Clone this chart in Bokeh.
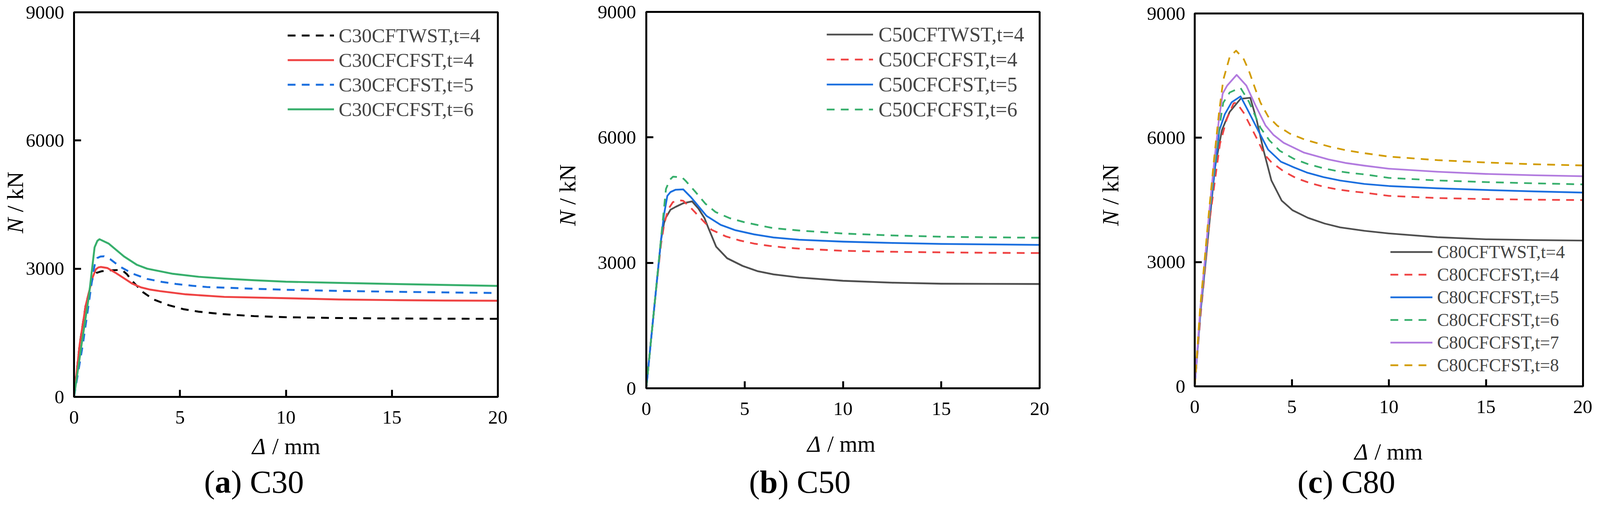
import numpy as np
from bokeh.plotting import figure
from bokeh.models import Range1d, FixedTicker, Label, Legend, LegendItem, BoxAnnotation
from bokeh.layouts import row
from bokeh.embed import file_html
from bokeh.resources import INLINE

FONT = "Liberation Serif"
S = 4096.0 / 4153.0   # reference pixels -> CSS pixels


def C(P):
    """reference page pixel -> canvas CSS pixel"""
    return int(round(P * S - 8))


def D(d):
    return d * S

# ---------------- data ----------------
x_ticks = [0, 5, 10, 15, 20]
y_ticks = [0, 3000, 6000, 9000]

# (a) C30
a_ftwst4_x = [0, 0.27, 0.55, 0.88, 1.05, 1.3, 1.64, 2.15, 2.3, 2.5, 2.73, 3.0, 3.27, 3.76, 4.48, 5.15, 5.88, 6.58, 7.09, 8.5, 10, 12.5, 15, 17.5, 20]
a_ftwst4_n = [0, 1240, 2140, 2780, 2900, 2940, 2961, 2970, 2955, 2870, 2720, 2580, 2445, 2279, 2144, 2054, 1994, 1958, 1934, 1890, 1865, 1845, 1835, 1830, 1827]
a_cf4_x = [0, 0.27, 0.55, 0.88, 1.03, 1.15, 1.27, 1.58, 1.94, 2.36, 2.73, 3.15, 3.6, 4.06, 5.27, 7.09, 10, 12.5, 15, 17.5, 20]
a_cf4_n = [0, 1240, 2140, 2800, 2985, 3030, 3040, 3015, 2910, 2775, 2655, 2565, 2510, 2475, 2400, 2340, 2310, 2280, 2265, 2255, 2250]
a_cf5_x = [0, 0.42, 0.7, 0.9, 1.0, 1.1, 1.25, 1.42, 1.7, 2.18, 2.79, 3.45, 4.15, 4.85, 5.58, 6.27, 6.97, 8.5, 10, 12.5, 15, 17.5, 20]
a_cf5_n = [0, 1240, 2200, 2900, 3150, 3250, 3285, 3290, 3225, 3045, 2880, 2760, 2691, 2640, 2601, 2571, 2559, 2530, 2507, 2480, 2461, 2445, 2431]
a_cf6_x = [0, 0.36, 0.7, 0.97, 1.1, 1.2, 1.64, 2.36, 2.97, 3.45, 4.67, 5.88, 7.09, 8.5, 10, 12.5, 15, 17.5, 20]
a_cf6_n = [0, 1240, 2350, 3500, 3650, 3690, 3586, 3286, 3090, 3000, 2880, 2811, 2769, 2730, 2696, 2668, 2643, 2620, 2597]

# (b) C50
b_ftwst4_x = [0, 0.25, 0.5, 0.75, 0.9, 1.0, 1.23, 1.5, 1.88, 2.33, 2.65, 2.96, 3.13, 3.55, 4.11, 4.9, 5.68, 6.47, 7.77, 10, 12.5, 15, 17.5, 20]
b_ftwst4_n = [0, 1200, 2380, 3550, 3950, 4086, 4270, 4340, 4425, 4469, 4300, 4068, 3865, 3387, 3110, 2926, 2798, 2724, 2650, 2571, 2525, 2501, 2497, 2494]
b_cf4_x = [0, 0.25, 0.5, 0.75, 0.9, 1.1, 1.35, 1.62, 1.88, 2.28, 2.8, 3.32, 4.04, 4.76, 5.48, 6.27, 6.99, 7.71, 10, 12.5, 15, 17.5, 20]
b_cf4_n = [0, 1200, 2360, 3450, 3902, 4270, 4450, 4498, 4483, 4307, 4049, 3791, 3633, 3534, 3460, 3405, 3368, 3342, 3288, 3265, 3250, 3240, 3234]
b_cf5_x = [0, 0.25, 0.5, 0.75, 0.9, 1.07, 1.23, 1.49, 1.88, 2.28, 3.06, 3.78, 4.5, 5.48, 6.47, 7.77, 10, 12.5, 15, 17.5, 20]
b_cf5_n = [0, 1200, 2380, 3550, 4150, 4601, 4693, 4748, 4756, 4564, 4123, 3909, 3784, 3681, 3607, 3552, 3507, 3475, 3452, 3440, 3429]
b_cf6_x = [0, 0.25, 0.5, 0.75, 1.0, 1.2, 1.36, 1.82, 2.02, 2.47, 3.0, 3.52, 4.24, 4.96, 5.68, 6.47, 7.77, 10, 12.5, 15, 17.5, 20]
b_cf6_n = [0, 1200, 2390, 3580, 4767, 4988, 5061, 5043, 4951, 4712, 4417, 4215, 4068, 3975, 3902, 3828, 3773, 3701, 3655, 3624, 3610, 3600]

# (c) C80
c_ftwst4_x = [0, 0.3, 0.55, 0.8, 1.05, 1.4, 1.57, 1.8, 2.36, 2.86, 3.19, 3.52, 3.95, 4.48, 5.04, 5.83, 6.69, 7.49, 8.74, 10, 12.5, 15, 17.5, 20]
c_ftwst4_n = [0, 1800, 2950, 4150, 5300, 6182, 6376, 6624, 6939, 6966, 6431, 5741, 4968, 4482, 4250, 4068, 3930, 3836, 3754, 3691, 3600, 3550, 3530, 3518]
c_cf4_x = [0, 0.32, 0.56, 0.78, 1.05, 1.3, 1.65, 2.0, 2.15, 2.53, 2.92, 3.25, 3.58, 3.95, 4.58, 5.24, 5.97, 6.69, 7.42, 8.15, 8.74, 10, 12.5, 15, 17.5, 20]
c_cf4_n = [0, 1800, 2950, 4050, 5000, 5851, 6450, 6830, 6850, 6596, 6238, 5934, 5603, 5410, 5189, 5023, 4902, 4813, 4747, 4703, 4675, 4598, 4545, 4520, 4505, 4496]
c_cf5_x = [0, 0.3, 0.54, 0.75, 1.0, 1.27, 1.55, 1.9, 2.36, 2.72, 3.32, 3.78, 4.44, 5.1, 5.77, 6.63, 7.49, 8.74, 10, 12.5, 15, 17.5, 20]
c_cf5_n = [0, 1850, 2992, 4085, 5078, 6182, 6569, 6856, 7000, 6679, 6127, 5713, 5421, 5288, 5161, 5051, 4968, 4885, 4835, 4780, 4740, 4705, 4677]
c_cf6_x = [0, 0.3, 0.54, 0.75, 1.0, 1.25, 1.47, 1.8, 2.06, 2.36, 2.79, 3.39, 3.85, 4.38, 5.1, 5.83, 6.56, 7.29, 8.02, 8.74, 10, 12.5, 15, 17.5, 20]
c_cf6_n = [0, 1880, 3000, 4100, 5200, 6200, 6845, 7093, 7148, 7204, 6872, 6238, 5934, 5686, 5492, 5365, 5272, 5200, 5150, 5117, 5032, 4970, 4930, 4900, 4875]
c_cf7_x = [0, 0.29, 0.52, 0.73, 1.0, 1.25, 1.44, 1.67, 2.16, 2.66, 3.12, 3.65, 4.05, 4.58, 5.63, 6.89, 7.75, 8.74, 10, 12.5, 15, 17.5, 20]
c_cf7_n = [0, 1900, 3020, 4120, 5400, 6450, 7066, 7259, 7518, 7259, 6790, 6293, 6072, 5879, 5641, 5476, 5393, 5327, 5253, 5180, 5127, 5095, 5072]
c_cf8_x = [0, 0.28, 0.5, 0.72, 1.0, 1.25, 1.47, 1.8, 2.13, 2.53, 2.79, 3.12, 3.39, 3.78, 4.25, 4.9, 5.63, 6.36, 7.09, 7.82, 8.54, 10, 12.5, 15, 17.5, 20]
c_cf8_n = [0, 1900, 3000, 4150, 5500, 6600, 7397, 7949, 8103, 7894, 7618, 7176, 6845, 6514, 6293, 6100, 5962, 5862, 5768, 5697, 5641, 5545, 5460, 5403, 5360, 5332]

labels_a = ["C30CFTWST,t=4", "C30CFCFST,t=4", "C30CFCFST,t=5", "C30CFCFST,t=6"]
labels_b = ["C50CFTWST,t=4", "C50CFCFST,t=4", "C50CFCFST,t=5", "C50CFCFST,t=6"]
labels_c = ["C80CFTWST,t=4", "C80CFCFST,t=4", "C80CFCFST,t=5", "C80CFCFST,t=6", "C80CFCFST,t=7", "C80CFCFST,t=8"]

BLACK = "#000000"
GRAY = "#4f4f4f"
RED = "#ef4343"
BLUE = "#1b6fdf"
GREEN = "#37af6c"
PURPLE = "#b27bdf"
GOLD = "#d29c00"
DASH = "20 16"
CAPTION_BASELINE = 1258


def px(v):
    return "%.1fpx" % (v * S)


def make_panel(series, g):
    pl, pr = C(g["panel_l"]), C(g["panel_r"])
    fr_l, fr_r = C(g["fr_l"]), C(g["fr_r"])
    fr_t, fr_b, H = C(g["fr_t"]), C(g["fr_b"]), C(1312)
    W = pr - pl
    fw, fh = fr_r - fr_l, fr_b - fr_t
    # extend ranges so that the data box lands at the frame position of the reference
    x0 = -20.0 * (fr_l - pl) / fw
    x1 = 20.0 + 20.0 * (pr - fr_r) / fw
    y1 = 9000.0 + 9000.0 * fr_t / fh
    y0 = -9000.0 * (H - fr_b) / fh

    p = figure(width=W, height=H, x_range=Range1d(x0, x1), y_range=Range1d(y0, y1),
               min_border=0, min_border_left=0, min_border_right=0,
               min_border_top=0, min_border_bottom=0,
               output_backend="svg", toolbar_location=None, title=None,
               background_fill_color="white", border_fill_color="white")
    p.xgrid.visible = False
    p.ygrid.visible = False
    p.outline_line_color = None
    p.xaxis.fixed_location = 0
    p.yaxis.fixed_location = 0
    p.xaxis.bounds = (0, 20)
    p.yaxis.bounds = (0, 9000)
    p.xaxis.ticker = FixedTicker(ticks=x_ticks)
    p.yaxis.ticker = FixedTicker(ticks=y_ticks)
    for ax in (p.xaxis[0], p.yaxis[0]):
        ax.axis_line_width = D(5)
        ax.axis_line_color = "black"
        ax.major_tick_line_width = D(5)
        ax.major_tick_line_color = "black"
        ax.major_tick_in = int(round(D(18)))
        ax.major_tick_out = 0
        ax.minor_tick_in = 0
        ax.minor_tick_out = 0
        ax.minor_tick_line_color = None
        ax.major_label_text_font = FONT
        ax.major_label_text_font_size = px(50)
        ax.major_label_text_color = "black"
    p.xaxis.major_label_standoff = int(round(D(g["xs"])))
    p.yaxis.major_label_standoff = int(round(D(g["ys"])))

    items = []
    for (xs, ns, color, dash, lab) in series:
        kw = dict(line_color=color, line_width=D(g["lw"]), line_join="round")
        if dash:
            kw["line_dash"] = DASH
        r = p.line(xs, ns, **kw)
        items.append(LegendItem(label=lab, renderers=[r]))

    # plot box (frame) of the data region
    p.add_layout(BoxAnnotation(left=0, right=20, bottom=0, top=9000,
                               fill_alpha=0, fill_color=None,
                               line_color="black", line_width=D(5), line_alpha=1))

    rh = int(round(D(g["rh"])))
    leg_top = C(g["leg_t"])
    leg = Legend(items=items,
                 location=(C(g["leg_l"]) - pl, H - (leg_top + rh * len(items))),
                 padding=0, margin=0, spacing=0,
                 glyph_width=int(round(D(g["gw"]))), glyph_height=rh, label_height=rh,
                 label_standoff=int(round(D(g["gs"]))),
                 label_text_font=FONT, label_text_font_size=px(g["lfs"]),
                 border_line_alpha=0, background_fill_alpha=0)
    p.add_layout(leg)

    def lab(text, x, y, size, style="normal", angle=0.0, align="left", baseline="alphabetic"):
        p.add_layout(Label(x=x, y=y, x_units="screen", y_units="screen", text=text,
                           text_font=FONT, text_font_size=size, text_font_style=style,
                           angle=angle, text_align=align, text_baseline=baseline,
                           text_color="black"))

    # y title: italic N + "/ kN"
    yx = C(g["yt_x"]) - pl
    yy = H - C(g["yt_b"])
    lab("N", yx, yy, px(60), "italic", np.pi / 2, "left", "middle")
    lab("/ kN", yx, yy + D(55), px(60), "normal", np.pi / 2, "left", "middle")
    # x title: italic Delta + "/ mm"
    xx = C(g["xt_x"]) - pl
    xy = H - C(g["xt_b"])
    lab("\u0394", xx, xy, px(60), "italic")
    lab("/ mm", xx + D(52), xy, px(60))
    # caption
    cx = C(g["cap_x"]) - pl
    cy = H - C(CAPTION_BASELINE)
    letter, rest, lw = g["cap"]
    lab("(", cx, cy, px(84))
    lab(letter, cx + D(28), cy, px(84), "bold")
    lab(rest, cx + D(28 + lw), cy, px(84))
    return p


series_a = [
    (a_ftwst4_x, a_ftwst4_n, BLACK, True, labels_a[0]),
    (a_cf4_x, a_cf4_n, RED, False, labels_a[1]),
    (a_cf5_x, a_cf5_n, BLUE, True, labels_a[2]),
    (a_cf6_x, a_cf6_n, GREEN, False, labels_a[3]),
]
series_b = [
    (b_ftwst4_x, b_ftwst4_n, GRAY, False, labels_b[0]),
    (b_cf4_x, b_cf4_n, RED, True, labels_b[1]),
    (b_cf5_x, b_cf5_n, BLUE, False, labels_b[2]),
    (b_cf6_x, b_cf6_n, GREEN, True, labels_b[3]),
]
series_c = [
    (c_ftwst4_x, c_ftwst4_n, GRAY, False, labels_c[0]),
    (c_cf4_x, c_cf4_n, RED, True, labels_c[1]),
    (c_cf5_x, c_cf5_n, BLUE, False, labels_c[2]),
    (c_cf6_x, c_cf6_n, GREEN, True, labels_c[3]),
    (c_cf7_x, c_cf7_n, PURPLE, False, labels_c[4]),
    (c_cf8_x, c_cf8_n, GOLD, True, labels_c[5]),
]

geom_a = dict(panel_l=8, panel_r=1400, fr_l=200, fr_r=1300, fr_t=40, fr_b=1038, xs=36, ys=25, lw=5.0,
              leg_l=754, leg_t=68, rh=64, gw=121, gs=12, lfs=51.5,
              yt_x=47, yt_b=613, xt_x=662, xt_b=1166, cap_x=537, cap=("a", ") C30", 42))
geom_b = dict(panel_l=1400, panel_r=2800, fr_l=1685, fr_r=2706, fr_t=39, fr_b=1016, xs=36, ys=26.5, lw=4.6,
              leg_l=2154, leg_t=65, rh=64.5, gw=121, gs=14, lfs=53,
              yt_x=1480, yt_b=594, xt_x=2103, xt_b=1160, cap_x=1952, cap=("b", ") C50", 47))
geom_c = dict(panel_l=2800, panel_r=4141, fr_l=3109, fr_r=4116, fr_t=43, fr_b=1011, xs=36, ys=24, lw=4.4,
              leg_l=3617, leg_t=633, rh=58.7, gw=109, gs=12, lfs=46.5,
              yt_x=2890, yt_b=594, xt_x=3523, xt_b=1180, cap_x=3375, cap=("c", ") C80", 37))

pa = make_panel(series_a, geom_a)
pb = make_panel(series_b, geom_b)
pc = make_panel(series_c, geom_c)

page = row(pa, pb, pc, spacing=0)
open("out.html", "w").write(file_html(page, INLINE))
